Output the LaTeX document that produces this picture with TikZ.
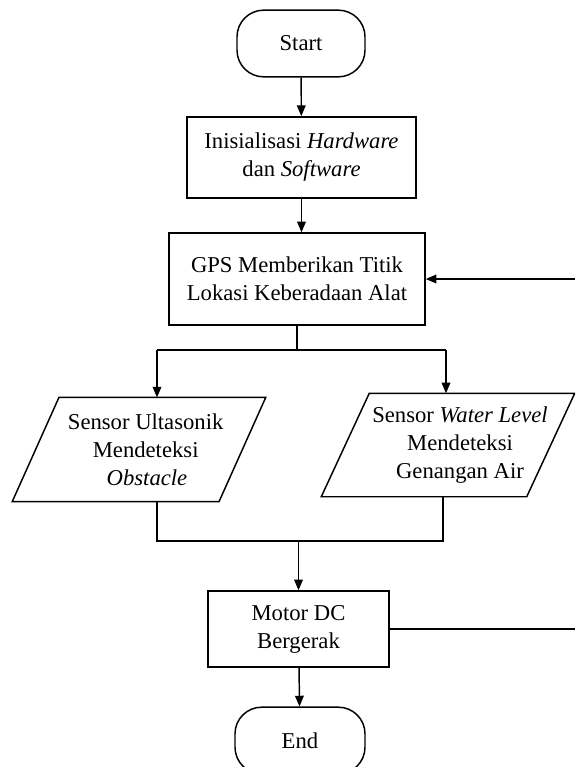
\documentclass[tikz,border=0pt]{standalone}
\usepackage{fontspec}
\setmainfont{Liberation Serif}
\usetikzlibrary{arrows.meta}
\tikzset{arr/.style = {-{Triangle[length=8pt,width=6.5pt]}},
         box/.style = {draw, inner sep=0pt, align=center, font=\fontsize{17}{21}\selectfont},
         term/.style = {box, rounded corners=20pt, minimum width=96pt, minimum height=50pt},
         io/.style = {box, draw=none}}

\begin{document}
\begin{tikzpicture}[x=0.75pt, y=-0.75pt, line width=1.1pt]
      \useasboundingbox (0,0) rectangle (575,767);
      \clip (0,0) rectangle (575,767);
      \node [term] (start) at (301,43.5) {Start};
      \node [box, minimum width=172pt, minimum height=61pt] (init) at (301.5,157.5) {Inisialisasi \textit{Hardware}\\dan \textit{Software}};
      \node [box, minimum width=192pt, minimum height=69pt] (gps) at (297,279) {GPS Memberikan Titik\\Lokasi Keberadaan Alat};
      \node [io, minimum width=189pt, minimum height=77pt] (ultra) at (139,449.5) {\hspace*{10pt}Sensor Ultasonik\\\hspace*{10pt}Mendeteksi\\\hspace*{12pt}\textit{Obstacle}};
      \node [io, minimum width=189pt, minimum height=76.5pt] (water) at (448,445) {\hspace*{18pt}Sensor \textit{Water Level}\\\hspace*{18pt}Mendeteksi\\\hspace*{18pt}Genangan Air};
      \node [box, minimum width=136pt, minimum height=57pt] (motor) at (298.5,629) {Motor DC\\Bergerak};
      \node [term, minimum width=97.5pt] (end) at (300,740.5) {End};
      \draw ([xshift=35pt]ultra.north west) -- (ultra.north east) -- ([xshift=-35pt]ultra.south east) -- (ultra.south west) -- cycle;
      \draw ([xshift=36pt]water.north west) -- (water.north east) -- ([xshift=-36pt]water.south east) -- (water.south west) -- cycle;
      \coordinate (sl) at (157,350);
      \coordinate (sr) at (446,350);
      \coordinate (ml) at (157,541);
      \coordinate (mr) at (443,541);
      \coordinate (rim) at (575,0);
      \draw [arr] (start) -- (init);
      \draw [arr] (init.south) -- (init.south |- gps.north);
      \draw (gps.south) -- (gps.south |- sl);
      \draw (sl) -- (sr);
      \draw [arr] (sl) -- (sl |- ultra.north);
      \draw [arr] (sr) -- (sr |- water.north);
      \draw (ml |- ultra.south) -- (ml) -- (mr) -- (mr |- water.south);
      \draw [arr] (motor.north |- ml) -- (motor.north);
      \draw [arr] (motor) -- (end);
      \draw (motor.east) -- (motor.east -| rim);
      \draw [arr] (gps.east -| rim) -- (gps.east);
    \end{tikzpicture}
\end{document}
